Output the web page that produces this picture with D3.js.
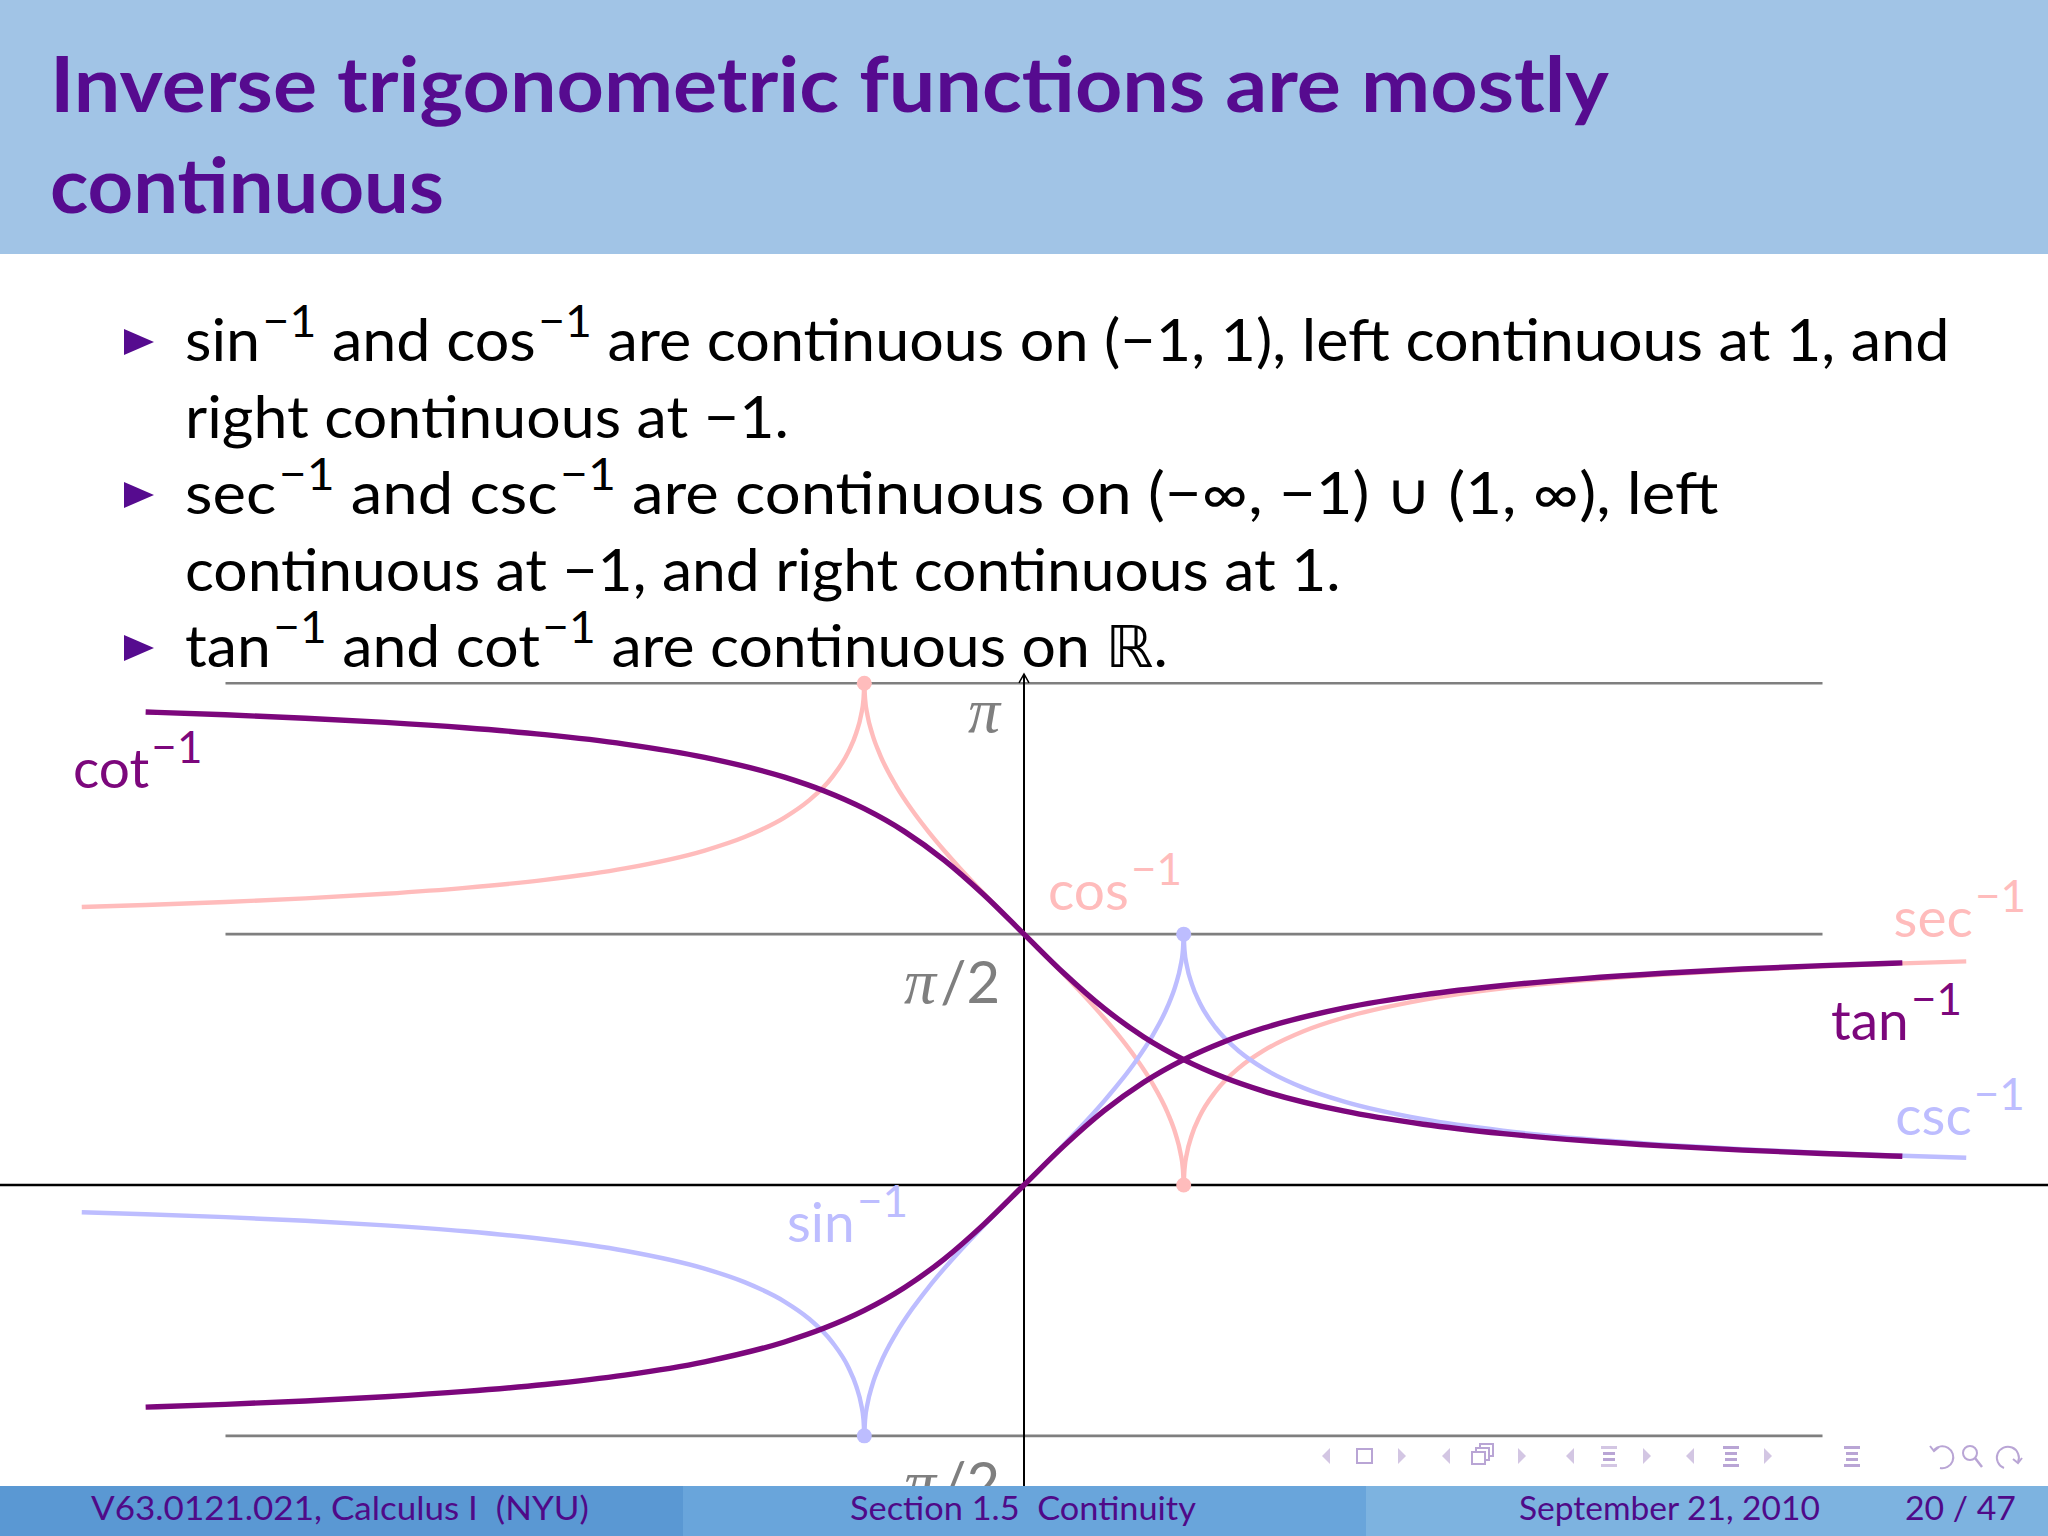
<!DOCTYPE html>
<html><head><meta charset="utf-8">
<script src="https://cdn.jsdelivr.net/npm/d3@7"></script>
<style>html,body{margin:0;padding:0;background:#fff;} svg{display:block;}</style>
</head><body>
<svg id="chart" width="2048" height="1536"></svg>
<script>
// ---------------- data ----------------
const tanX = [-5.5,-5,-4.5,-4,-3.5,-3,-2.5,-2,-1.5,-1.25,-1,-0.75,-0.5,-0.25,0,0.25,0.5,0.75,1,1.25,1.5,2,2.5,3,3.5,4,4.5,5,5.5];
const tanY = [-1.3909,-1.3734,-1.3521,-1.3258,-1.2925,-1.2490,-1.1903,-1.1071,-0.9828,-0.8961,-0.7854,-0.6435,-0.4636,-0.2450,0,0.2450,0.4636,0.6435,0.7854,0.8961,0.9828,1.1071,1.1903,1.2490,1.2925,1.3258,1.3521,1.3734,1.3909];
const cotY = [2.9617,2.9442,2.9229,2.8966,2.8633,2.8198,2.7611,2.6779,2.5536,2.4669,2.3562,2.2143,2.0344,1.8158,1.5708,1.3258,1.1071,0.9273,0.7854,0.6747,0.5880,0.4636,0.3805,0.3218,0.2783,0.2450,0.2187,0.1974,0.1799];

const arcX = [-1,-0.995,-0.98,-0.95,-0.9,-0.8,-0.7,-0.6,-0.5,-0.4,-0.3,-0.2,-0.1,0,0.1,0.2,0.3,0.4,0.5,0.6,0.7,0.8,0.9,0.95,0.98,0.995,1];
const sinY = [-1.5708,-1.4708,-1.3705,-1.2532,-1.1198,-0.9273,-0.7754,-0.6435,-0.5236,-0.4115,-0.3047,-0.2014,-0.1002,0,0.1002,0.2014,0.3047,0.4115,0.5236,0.6435,0.7754,0.9273,1.1198,1.2532,1.3705,1.4708,1.5708];
const cosY = [3.1416,3.0416,2.9413,2.8240,2.6906,2.4981,2.3462,2.2143,2.0944,1.9823,1.8755,1.7722,1.6710,1.5708,1.4706,1.3694,1.2661,1.1593,1.0472,0.9273,0.7954,0.6435,0.4510,0.3176,0.2003,0.1000,0];

const secRX = [1,1.005,1.02,1.05,1.1,1.2,1.35,1.5,1.75,2,2.5,3,3.5,4,4.5,5,5.5,5.9];
const secRY = [0,0.0998,0.1984,0.3098,0.4297,0.5857,0.7367,0.8411,0.9626,1.0472,1.1593,1.2310,1.2810,1.3181,1.3467,1.3694,1.3880,1.4005];
const cscRY = [1.5708,1.4710,1.3724,1.2610,1.1411,0.9851,0.8341,0.7297,0.6082,0.5236,0.4115,0.3398,0.2898,0.2527,0.2241,0.2014,0.1828,0.1703];
const secLX = [-5.9,-5.5,-5,-4.5,-4,-3.5,-3,-2.5,-2,-1.75,-1.5,-1.35,-1.2,-1.1,-1.05,-1.02,-1.005,-1];
const secLY = [1.7411,1.7536,1.7722,1.7949,1.8235,1.8606,1.9106,1.9823,2.0944,2.1790,2.3005,2.4049,2.5559,2.7119,2.8318,2.9432,3.0418,3.1416];
const cscLY = [-0.1703,-0.1828,-0.2014,-0.2241,-0.2527,-0.2898,-0.3398,-0.4115,-0.5236,-0.6082,-0.7297,-0.8341,-0.9851,-1.1411,-1.2610,-1.3724,-1.4710,-1.5708];

const pinkDots = [[-1, 3.1416], [1, 0]];
const blueDots = [[1, 1.5708], [-1, -1.5708]];

const gridValues = [3.1416, 1.5708, -1.5708];
const gridExtent = [-5, 5];
const tickLabels = [["π", ""], ["π", "/2"], ["−π", "/2"]];
const tickAnchors = [[-0.15, 2.836], [-0.15, 1.140], [-0.15, -1.997]];

const curveNames = ["cot", "cos", "sec", "tan", "csc", "sin"];
const curveLabelAnchors = [[-5.955, 2.486], [0.150, 1.722], [5.445, 1.553], [5.053, 0.907], [5.456, 0.313], [-1.484, -0.357]];

const titleLines = ["Inverse trigonometric functions are mostly", "continuous"];
const bulletLines = [
  [["sin"], ["−1", 1], [" and cos"], ["−1", 1], [" are continuous on (−1, 1), left continuous at 1, and"]],
  [["right continuous at −1."]],
  [["sec"], ["−1", 1], [" and csc"], ["−1", 1], [" are continuous on (−∞, −1) ∪ (1, ∞), left"]],
  [["continuous at −1, and right continuous at 1."]],
  [["tan"], ["−1", 1], [" and cot"], ["−1", 1], [" are continuous on ℝ."]]
];
const footerTexts = ["V63.0121.021, Calculus I  (NYU)", "Section 1.5  Continuity", "September 21, 2010", "20 / 47"];

// ---------------- styles ----------------
const PURPLE = "#7c077c", PINK = "#ffbcbc", LAV = "#bdbdff", GRAY = "#7f7f7f";
const TITLE = "#560b8f", FOOT = "#4f0a88";
const FONT = "Lato, 'Open Sans', 'DejaVu Sans', sans-serif";

const svg = d3.select("#chart");
const W = 2048, H = 1536, FOOT_Y = 1486;
const unit = 159.7;
const x = d3.scaleLinear().domain([-1, 1]).range([1024 - unit, 1024 + unit]);
const y = d3.scaleLinear().domain([0, 1]).range([1185, 1185 - unit]);

const zip = (xs, ys) => xs.map((v, i) => [v, ys[i]]);
const line = d3.line().x(d => x(d[0])).y(d => y(d[1])).curve(d3.curveMonotoneX);

svg.append("defs").append("clipPath").attr("id", "plotclip")
  .append("rect").attr("x", 0).attr("y", 0).attr("width", W).attr("height", FOOT_Y);

function fitText(g, tx, ty, target) {
  const bb = g.node().getBBox();
  const s = target / bb.width;
  g.attr("transform", `translate(${tx - bb.x * s},${ty}) scale(${s},1)`);
}
function rich(parent, segs, fs, color, raise, supScale, weight) {
  const g = parent.append("g");
  const t = g.append("text").attr("font-family", FONT).attr("font-size", fs).attr("fill", color)
    .attr("font-weight", weight || 400).attr("x", 0).attr("y", 0).attr("xml:space", "preserve");
  let prevSup = false;
  segs.forEach(s => {
    const sp = t.append("tspan").text(s[0]).style("white-space", "pre");
    if (s[1]) { sp.attr("font-size", fs * supScale).attr("dy", -raise).attr("dx", fs * 0.04); prevSup = true; }
    else if (prevSup) { sp.attr("dy", raise); prevSup = false; }
  });
  return g;
}

// ---------------- plot ----------------
const plot = svg.append("g").attr("clip-path", "url(#plotclip)");
plot.selectAll("line.grid").data(gridValues).enter().append("line")
  .attr("x1", x(gridExtent[0])).attr("x2", x(gridExtent[1]))
  .attr("y1", d => y(d)).attr("y2", d => y(d))
  .attr("stroke", GRAY).attr("stroke-width", 2.6);
plot.append("line").attr("x1", 0).attr("x2", W).attr("y1", y(0)).attr("y2", y(0))
  .attr("stroke", "#000").attr("stroke-width", 2.6);
plot.append("line").attr("x1", x(0)).attr("x2", x(0)).attr("y1", y(3.2)).attr("y2", H)
  .attr("stroke", "#000").attr("stroke-width", 2);
plot.append("path")
  .attr("d", `M${x(0) - 5},${y(3.2) + 9} L${x(0)},${y(3.2)} L${x(0) + 5},${y(3.2) + 9}`)
  .attr("fill", "none").attr("stroke", "#000").attr("stroke-width", 1.5);

// tick labels
tickLabels.forEach((lab, i) => {
  const t = plot.append("text").attr("x", x(tickAnchors[i][0])).attr("y", y(tickAnchors[i][1]))
    .attr("text-anchor", "end").attr("fill", GRAY);
  const pi = lab[0].replace("−", "");
  const neg = lab[0].startsWith("−");
  if (neg) t.append("tspan").attr("font-family", FONT).attr("font-size", 58).attr("dy", 9).text("−");
  t.append("tspan").attr("font-family", "'Liberation Serif', 'DejaVu Serif', serif")
    .attr("font-style", "italic").attr("font-size", 64).attr("dy", neg ? -9 : 0).text(pi);
  if (lab[1]) t.append("tspan").attr("font-family", FONT).attr("font-size", 58).attr("dx", 4).text(lab[1]);
});

// pale curves
const pale = [
  [zip(secLX, secLY), PINK], [zip(secRX, secRY), PINK],
  [zip(secLX, cscLY), LAV], [zip(secRX, cscRY), LAV],
  [zip(arcX, cosY), PINK], [zip(arcX, sinY), LAV]
];
pale.forEach(p => plot.append("path").attr("d", line(p[0])).attr("fill", "none")
  .attr("stroke", p[1]).attr("stroke-width", 4.4).attr("stroke-linejoin", "round"));

plot.selectAll("circle.pd").data(pinkDots).enter().append("circle")
  .attr("cx", d => x(d[0])).attr("cy", d => y(d[1])).attr("r", 7.5).attr("fill", PINK);
plot.selectAll("circle.bd").data(blueDots).enter().append("circle")
  .attr("cx", d => x(d[0])).attr("cy", d => y(d[1])).attr("r", 7.5).attr("fill", LAV);

// purple curves
[zip(tanX, cotY), zip(tanX, tanY)].forEach(p => plot.append("path").attr("d", line(p))
  .attr("fill", "none").attr("stroke", PURPLE).attr("stroke-width", 5.4).attr("stroke-linejoin", "round"));

// curve labels
const labelColors = [PURPLE, PINK, PINK, PURPLE, LAV, LAV];
curveNames.forEach((n, i) => {
  const g = rich(plot, [[n], ["−1", 1]], 55, labelColors[i], 25, 0.8, 400);
  g.attr("transform", `translate(${x(curveLabelAnchors[i][0])},${y(curveLabelAnchors[i][1])})`);
});

// ---------------- header ----------------
svg.append("rect").attr("x", 0).attr("y", 0).attr("width", W).attr("height", 254).attr("fill", "#a1c4e6");
const titleY = [112, 213], titleW = [1560, 394];
titleLines.forEach((s, i) => {
  const g = rich(svg, [[s]], 76, TITLE, 0, 1, 700);
  fitText(g, 50, titleY[i], titleW[i]);
});

// ---------------- bullets ----------------
const lineY = [361, 437.5, 514, 590.5, 667];
const lineEnd = [1950, 789, 1719, 1341, 1168];
bulletLines.forEach((segs, i) => {
  const g = rich(svg, segs, 58, "#000", 24, 0.76, 400);
  fitText(g, 185, lineY[i], lineEnd[i] - 185);
});
[0, 2, 4].forEach(i => {
  const cy = lineY[i] - 19;
  svg.append("path").attr("d", `M124,${cy - 13} L154,${cy} L124,${cy + 13} Z`).attr("fill", TITLE);
});

// ---------------- navigation symbols ----------------
const nav = svg.append("g");
const NL = "#d3c6e3", ND = "#b9a5d5", ny = 1456;
function tri(cx, dir) {
  nav.append("path").attr("d", dir < 0
    ? `M${cx + 4},${ny - 8} L${cx - 4},${ny} L${cx + 4},${ny + 8} Z`
    : `M${cx - 4},${ny - 8} L${cx + 4},${ny} L${cx - 4},${ny + 8} Z`).attr("fill", NL);
}
function bars(cx, c1, c2) {
  [[-10, 16, c1], [-4, 12, c2], [2, 12, c2], [8, 16, c1]].forEach(b =>
    nav.append("rect").attr("x", cx - b[1] / 2).attr("y", ny + b[0]).attr("width", b[1]).attr("height", 3).attr("fill", b[2]));
}
tri(1326, -1); nav.append("rect").attr("x", 1357).attr("y", ny - 7).attr("width", 15).attr("height", 14)
  .attr("fill", "none").attr("stroke", ND).attr("stroke-width", 2); tri(1402, 1);
tri(1446, -1);
[[1478, 1452], [1482, 1448], [1486, 1444]].reverse().forEach(p => nav.append("rect").attr("x", p[0] - 6).attr("y", p[1])
  .attr("width", 13).attr("height", 12).attr("fill", "#fff").attr("stroke", ND).attr("stroke-width", 2));
tri(1522, 1);
tri(1570, -1); bars(1609, NL, ND); tri(1647, 1);
tri(1690, -1); bars(1731, ND, ND); tri(1768, 1);
bars(1852, ND, ND);
nav.append("path").attr("d", `M1934,${ny - 6} A11,11 0 1 1 1940,${ny + 12}`).attr("fill", "none").attr("stroke", ND).attr("stroke-width", 2);
nav.append("path").attr("d", `M1930,${ny - 10} L1934,${ny - 5} L1939,${ny - 9}`).attr("fill", "none").attr("stroke", ND).attr("stroke-width", 2);
nav.append("circle").attr("cx", 1970).attr("cy", ny - 3).attr("r", 7).attr("fill", "none").attr("stroke", ND).attr("stroke-width", 2);
nav.append("line").attr("x1", 1975).attr("y1", ny + 2).attr("x2", 1982).attr("y2", ny + 11).attr("stroke", ND).attr("stroke-width", 2.5);
nav.append("path").attr("d", `M2018,${ny + 6} A11,11 0 1 0 2004,${ny + 12}`).attr("fill", "none").attr("stroke", ND).attr("stroke-width", 2);
nav.append("path").attr("d", `M2013,${ny + 3} L2018,${ny + 7} L2022,${ny + 2}`).attr("fill", "none").attr("stroke", ND).attr("stroke-width", 2);

// ---------------- footer ----------------
svg.append("rect").attr("x", 0).attr("y", FOOT_Y).attr("width", 683).attr("height", H - FOOT_Y).attr("fill", "#5a98d3");
svg.append("rect").attr("x", 683).attr("y", FOOT_Y).attr("width", 683).attr("height", H - FOOT_Y).attr("fill", "#69a5db");
svg.append("rect").attr("x", 1366).attr("y", FOOT_Y).attr("width", 682).attr("height", H - FOOT_Y).attr("fill", "#7db3e0");
const footX = [91, 850, 1519, 1905], footEnd = [589, 1196, 1820, 2016];
footerTexts.forEach((s, i) => {
  const g = rich(svg, [[s]], 33, FOOT, 0, 1, 400);
  fitText(g, footX[i], 1520, footEnd[i] - footX[i]);
});
</script>
</body></html>
